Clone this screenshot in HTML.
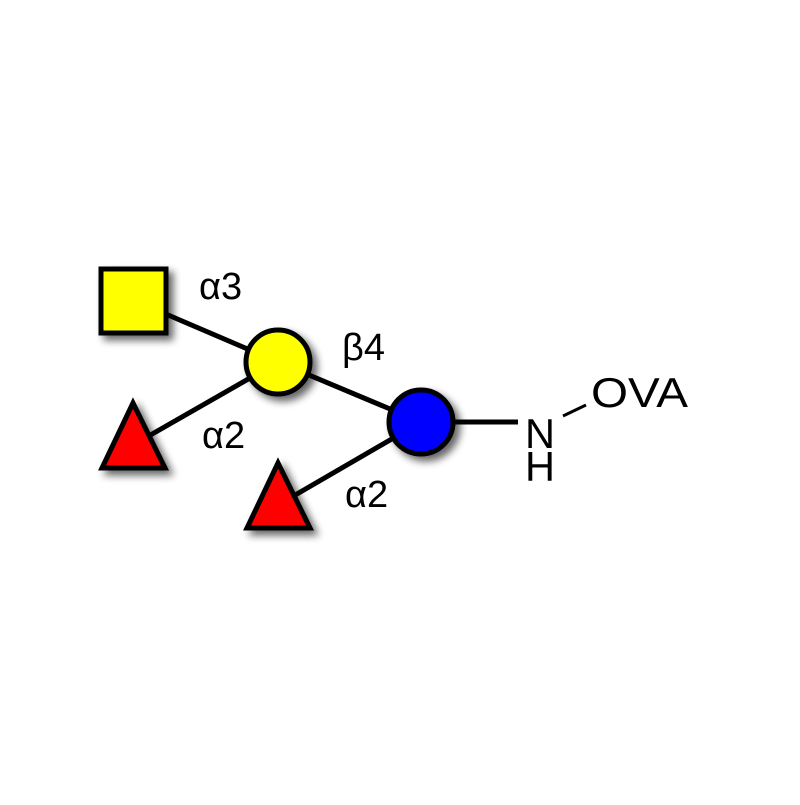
<!DOCTYPE html>
<html><head><style>html,body{margin:0;padding:0;background:#fff}</style></head><body>
<svg width="800" height="800" xmlns="http://www.w3.org/2000/svg">
<defs><filter id="s" x="-50%" y="-50%" width="200%" height="200%"><feGaussianBlur in="SourceAlpha" stdDeviation="4"/><feOffset dx="5" dy="5"/><feComponentTransfer><feFuncA type="linear" slope="0.6"/></feComponentTransfer><feMerge><feMergeNode/><feMergeNode in="SourceGraphic"/></feMerge></filter></defs>
<g stroke="#000" stroke-width="5">
<line x1="133" y1="300" x2="278" y2="362"/>
<line x1="278" y1="362" x2="421" y2="422"/>
<line x1="133" y1="445" x2="278" y2="362"/>
<line x1="278" y1="505" x2="421" y2="422"/>
<line x1="421" y1="422" x2="518" y2="422"/>
</g>
<line x1="563" y1="416" x2="586" y2="405" stroke="#000" stroke-width="3"/>
<g stroke="#000" stroke-width="5" filter="url(#s)">
<rect x="101" y="269" width="65" height="64" fill="#ffff00"/>
<circle cx="278" cy="362" r="32" fill="#ffff00"/>
<circle cx="421" cy="422" r="32" fill="#0000ff"/>
<polygon points="133,403 102,468 165,468" fill="#ff0000"/>
<polygon points="278,463 247,528 310,528" fill="#ff0000"/>
</g>
<g font-family="Liberation Sans, DejaVu Sans, sans-serif" font-size="38" fill="#000">
<text x="199" y="299">α3</text>
<text x="342" y="360">β4</text>
<text x="202" y="448">α2</text>
<text x="345" y="507">α2</text>
</g>
<g font-family="Liberation Sans, DejaVu Sans, sans-serif" font-size="42" fill="#000">
<text x="525" y="448" textLength="30" lengthAdjust="spacingAndGlyphs">N</text>
<text x="525" y="481" textLength="30" lengthAdjust="spacingAndGlyphs">H</text>
<text x="591" y="407" textLength="97" lengthAdjust="spacingAndGlyphs">OVA</text>
</g>
</svg>
</body></html>
